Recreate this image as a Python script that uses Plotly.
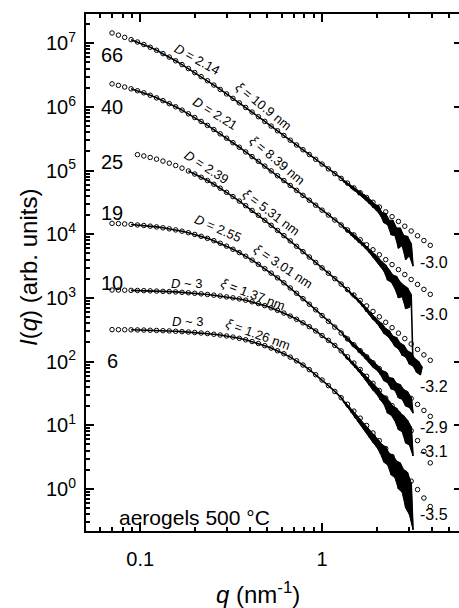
import plotly.graph_objects as go

# ---------------- data ----------------
# common q grid of the open-circle (fit) points, nm^-1
Q = [0.0700, 0.0759, 0.0822, 0.0891, 0.0966, 0.1047, 0.1135, 0.1230, 0.1334, 0.1445,
     0.1567, 0.1698, 0.1841, 0.1995, 0.2163, 0.2344, 0.2541, 0.2754, 0.2985, 0.3236,
     0.3508, 0.3802, 0.4121, 0.4467, 0.4842, 0.5248, 0.5689, 0.6166, 0.6683, 0.7244,
     0.7852, 0.8511, 0.9226, 1.0000, 1.0839, 1.1749, 1.2735, 1.3804, 1.4962, 1.6218,
     1.7579, 1.9055, 2.0654, 2.2387, 2.4266, 2.6303, 2.8510, 3.0903, 3.3497, 3.6308,
     3.9355]

# log10 I(q) of the circles, one list per sample
FIT_66 = [7.162, 7.128, 7.093, 7.057, 7.020, 6.981, 6.938, 6.890, 6.838, 6.783,
          6.725, 6.665, 6.603, 6.540, 6.476, 6.412, 6.344, 6.275, 6.205, 6.135,
          6.064, 5.992, 5.920, 5.847, 5.774, 5.700, 5.626, 5.552, 5.478, 5.403,
          5.328, 5.253, 5.178, 5.103, 5.028, 4.953, 4.878, 4.803, 4.728, 4.653,
          4.578, 4.503, 4.428, 4.352, 4.277, 4.202, 4.127, 4.052, 3.977, 3.902, 3.827]
FIT_40 = [6.363, 6.339, 6.313, 6.285, 6.255, 6.222, 6.184, 6.143, 6.099, 6.052,
          6.003, 5.950, 5.893, 5.834, 5.773, 5.710, 5.645, 5.578, 5.509, 5.439,
          5.367, 5.294, 5.220, 5.146, 5.071, 4.996, 4.920, 4.844, 4.767, 4.690,
          4.612, 4.535, 4.457, 4.379, 4.302, 4.224, 4.146, 4.068, 3.991, 3.913,
          3.835, 3.757, 3.679, 3.602, 3.524, 3.446, 3.368, 3.290, 3.213, 3.135, 3.057]
FIT_25 = [None, None, None, None, 5.251, 5.230, 5.207, 5.180, 5.150, 5.117,
          5.081, 5.039, 4.994, 4.946, 4.896, 4.844, 4.786, 4.724, 4.659, 4.592,
          4.522, 4.450, 4.375, 4.298, 4.220, 4.141, 4.061, 3.979, 3.896, 3.812,
          3.728, 3.643, 3.558, 3.473, 3.388, 3.303, 3.218, 3.132, 3.046, 2.961,
          2.875, 2.789, 2.704, 2.618, 2.533, 2.447, 2.362, 2.277, 2.192, 2.106, 2.021]
FIT_19 = [4.172, 4.168, 4.162, 4.155, 4.147, 4.138, 4.128, 4.116, 4.102, 4.086,
          4.069, 4.049, 4.025, 3.998, 3.968, 3.936, 3.900, 3.859, 3.814, 3.765,
          3.713, 3.656, 3.594, 3.528, 3.460, 3.390, 3.316, 3.238, 3.157, 3.074,
          2.989, 2.902, 2.814, 2.724, 2.633, 2.542, 2.450, 2.357, 2.264, 2.171,
          2.077, 1.983, 1.889, 1.795, 1.702, 1.608, 1.515, 1.421, 1.328, 1.234, 1.141]
FIT_10 = [3.125, 3.124, 3.122, 3.120, 3.118, 3.115, 3.112, 3.108, 3.104, 3.100,
          3.095, 3.089, 3.082, 3.074, 3.065, 3.055, 3.044, 3.031, 3.017, 3.002,
          2.985, 2.965, 2.940, 2.911, 2.880, 2.845, 2.806, 2.763, 2.716, 2.665,
          2.610, 2.549, 2.482, 2.410, 2.334, 2.255, 2.169, 2.076, 1.978, 1.876,
          1.770, 1.660, 1.546, 1.428, 1.308, 1.185, 1.055, 0.915, 0.760, 0.590, 0.410]
FIT_6 = [2.503, 2.502, 2.501, 2.500, 2.498, 2.496, 2.493, 2.490, 2.486, 2.482,
         2.477, 2.471, 2.465, 2.458, 2.450, 2.441, 2.430, 2.418, 2.403, 2.386,
         2.366, 2.343, 2.316, 2.285, 2.251, 2.213, 2.171, 2.124, 2.071, 2.013,
         1.947, 1.874, 1.795, 1.711, 1.623, 1.532, 1.434, 1.331, 1.223, 1.112,
         0.997, 0.880, 0.759, 0.635, 0.510, 0.383, 0.254, 0.123, -0.009, -0.142, -0.276]

# measured (noisy) high-q part of each data curve: q grid and log10 I
# (values alternate between the upper and lower edge of the noise band)
TAIL_Q = [1.288, 1.318, 1.349, 1.380, 1.413, 1.445, 1.479, 1.514, 1.549, 1.585,
          1.622, 1.660, 1.698, 1.738, 1.778, 1.820, 1.862, 1.905, 1.950, 1.995,
          2.042, 2.089, 2.138, 2.188, 2.239, 2.291, 2.344, 2.399, 2.455, 2.512,
          2.570, 2.630, 2.692, 2.754, 2.818, 2.884, 2.951, 3.020, 3.090, 3.162,
          3.236, 3.311, 3.388, 3.467, 3.548]
TAIL_66 = [4.87, 4.825, 4.83, 4.78, 4.785, 4.73, 4.75, 4.685, 4.70, 4.63,
           4.665, 4.59, 4.63, 4.535, 4.58, 4.48, 4.535, 4.42, 4.47, 4.37,
           4.45, 4.30, 4.34, 4.18, 4.33, 4.15, 4.22, 3.99, 4.22, 3.98,
           4.10, 3.78, 4.10, 3.82, 3.98, 3.60, 3.97, 3.66, 3.86, 3.50]
TAIL_40 = [4.14, 4.095, 4.10, 4.04, 4.055, 3.99, 4.01, 3.935, 3.96, 3.88,
           3.905, 3.83, 3.86, 3.775, 3.81, 3.71, 3.755, 3.64, 3.69, 3.58,
           3.63, 3.50, 3.57, 3.42, 3.52, 3.28, 3.44, 3.25, 3.36, 3.15,
           3.34, 3.00, 3.25, 3.02, 3.20, 2.83, 3.16, 2.85, 3.06, 1.98]
TAIL_25 = [3.21, 3.17, 3.16, 3.115, 3.11, 3.055, 3.065, 3.00, 3.005, 2.94,
           2.95, 2.875, 2.885, 2.80, 2.825, 2.735, 2.77, 2.66, 2.70, 2.61,
           2.64, 2.53, 2.60, 2.44, 2.52, 2.40, 2.49, 2.33, 2.40, 2.24,
           2.38, 2.20, 2.29, 2.10, 2.26, 2.07, 2.17, 1.96, 2.14, 1.93,
           2.05, 1.83, 2.01, 1.79, 1.92]
TAIL_19 = [2.45, 2.395, 2.40, 2.345, 2.345, 2.28, 2.29, 2.225, 2.24, 2.16,
           2.19, 2.10, 2.14, 2.04, 2.09, 1.98, 2.03, 1.91, 1.98, 1.87,
           1.93, 1.80, 1.86, 1.70, 1.84, 1.67, 1.75, 1.57, 1.74, 1.55,
           1.66, 1.43, 1.64, 1.41, 1.56, 1.30, 1.53, 1.28, 1.44, 1.19]
TAIL_10 = [2.16, 2.105, 2.10, 2.04, 2.045, 1.98, 1.99, 1.915, 1.93, 1.85,
           1.875, 1.78, 1.81, 1.71, 1.75, 1.63, 1.69, 1.55, 1.62, 1.49,
           1.57, 1.40, 1.49, 1.33, 1.45, 1.19, 1.38, 1.16, 1.30, 1.07,
           1.27, 0.93, 1.19, 0.90, 1.15, 0.72, 1.08, 0.69, 0.98, 0.52]
TAIL_6 = [1.42, 1.36, 1.355, 1.285, 1.29, 1.21, 1.225, 1.13, 1.16, 1.055,
          1.10, 0.98, 1.03, 0.90, 0.97, 0.81, 0.90, 0.73, 0.85, 0.66,
          0.77, 0.56, 0.70, 0.42, 0.66, 0.38, 0.56, 0.22, 0.53, 0.18,
          0.44, 0.00, 0.41, -0.05, 0.30, -0.30, 0.26, -0.40, 0.10, -0.64]

SAMPLES = ["66", "40", "25", "19", "10", "6"]
FITS = [FIT_66, FIT_40, FIT_25, FIT_19, FIT_10, FIT_6]
TAILS = [TAIL_66, TAIL_40, TAIL_25, TAIL_19, TAIL_10, TAIL_6]
DATA_START = [3, 3, 12, 3, 3, 3]        # first grid index where the measured line begins
BAND_POINTS = [40, 39, 45, 40, 40, 40]  # tail points that belong to the noise band
SMOOTH_END = 37                         # grid index where the noisy tail takes over

# text labels
SAMPLE_LABEL_Y = [6.816, 6.00, 5.136, 4.335, 3.235, 2.01]
SLOPE_TEXT = ["-3.0", "-3.0", "-3.2", "-2.9", "-3.1", "-3.5"]
SLOPE_Y = [3.550, 2.733, 1.602, 0.958, 0.581, -0.408]
PARAM_TEXT = ["<i>D</i> = 2.14", "<i>ξ</i> = 10.9 nm",
              "<i>D</i> = 2.21", "<i>ξ</i> = 8.39 nm",
              "<i>D</i> = 2.39", "<i>ξ</i> = 5.31 nm",
              "<i>D</i> = 2.55", "<i>ξ</i> = 3.01 nm",
              "<i>D</i> ~ 3", "<i>ξ</i> = 1.37 nm",
              "<i>D</i> ~ 3", "<i>ξ</i> = 1.26 nm"]
PARAM_X = [-0.687, -0.319, -0.588, -0.247, -0.632, -0.280, -0.571, -0.214,
           -0.747, -0.379, -0.742, -0.352]
PARAM_Y = [6.738, 6.015, 5.890, 5.152, 5.057, 4.335, 4.084, 3.487,
           3.235, 3.047, 2.623, 2.419]
PARAM_ANGLE = [29, 39, 32, 40, 33, 37, 24, 34, 0, 21, 0, 20]

Y_TICK_VALS = [1, 10, 100, 1e3, 1e4, 1e5, 1e6, 1e7]
Y_TICK_TEXT = ["10<sup>%d</sup>" % i for i in range(8)]
X_TICK_VALS = [0.1, 1]
X_TICK_TEXT = ["0.1", "1"]

# ---------------- figure ----------------
FONT = "Liberation Sans, Arial, Helvetica, sans-serif"
fig = go.Figure()

for name, fit, tail, k0, nb in zip(SAMPLES, FITS, TAILS, DATA_START, BAND_POINTS):
    # filled noise band of the measured curve (upper edge forward, lower edge back)
    tq = TAIL_Q[:nb]
    tv = tail[:nb]
    up_q, up_v = tq[0::2], tv[0::2]
    lo_q, lo_v = tq[1::2], tv[1::2]
    fig.add_trace(go.Scatter(x=up_q + lo_q[::-1],
                             y=[10 ** v for v in up_v] + [10 ** v for v in lo_v[::-1]],
                             mode="lines", fill="toself", fillcolor="black",
                             line=dict(color="black", width=1),
                             showlegend=False, hoverinfo="skip"))
    # measured curve: smooth part + noisy tail
    xs = Q[k0:SMOOTH_END] + TAIL_Q[:len(tail)]
    ys = [10 ** v for v in fit[k0:SMOOTH_END]] + [10 ** v for v in tail]
    fig.add_trace(go.Scatter(x=xs, y=ys, mode="lines",
                             line=dict(color="black", width=1.6),
                             showlegend=False, hoverinfo="skip"))
    # fit curve as open circles
    fig.add_trace(go.Scatter(x=Q, y=[10 ** v if v is not None else None for v in fit],
                             mode="markers",
                             marker=dict(symbol="circle-open", size=4.5,
                                         color="black", line=dict(width=1)),
                             showlegend=False, hoverinfo="skip"))

# dummy trace carrying the right-hand tick axis
fig.add_trace(go.Scatter(x=[], y=[], yaxis="y2", showlegend=False))

ann = []
for t, y in zip(SAMPLES, SAMPLE_LABEL_Y):
    ann.append(dict(x=-1.155, y=y, xref="x", yref="y", text=t, showarrow=False,
                    xanchor="center", yanchor="middle",
                    font=dict(size=20, family=FONT, color="black")))
for t, y in zip(SLOPE_TEXT, SLOPE_Y):
    ann.append(dict(x=0.615, y=y, xref="x", yref="y", text=t, showarrow=False,
                    xanchor="center", yanchor="middle",
                    font=dict(size=16, family=FONT, color="black")))
for t, x, y, a in zip(PARAM_TEXT, PARAM_X, PARAM_Y, PARAM_ANGLE):
    ann.append(dict(x=x, y=y, xref="x", yref="y", text=t, showarrow=False,
                    xanchor="center", yanchor="middle",
                    textangle=a, font=dict(size=13, family=FONT, color="black")))
ann.append(dict(x=-1.126, y=-0.455, xref="x", yref="y", text="aerogels 500 °C",
                showarrow=False, xanchor="left", yanchor="middle",
                font=dict(size=21, family=FONT, color="black")))
ann.append(dict(x=-0.1555, y=0.5106, xref="paper", yref="paper",
                text="<i>I</i>(<i>q</i>) (arb. units)", textangle=-90,
                xanchor="center", yanchor="middle",
                showarrow=False, font=dict(size=24, family=FONT, color="black")))
ann.append(dict(x=0.461, y=-0.12, xref="paper", yref="paper",
                text="<i>q</i> (nm<sup>-1</sup>)",
                xanchor="center", yanchor="middle",
                showarrow=False, font=dict(size=24, family=FONT, color="black")))

fig.update_layout(
    width=459, height=608,
    margin=dict(l=86, r=0, t=14, b=77),
    paper_bgcolor="white", plot_bgcolor="white",
    font=dict(family=FONT, size=20, color="black"),
    annotations=ann,
    xaxis=dict(type="log", range=[-1.298, 0.753], showgrid=False, zeroline=False,
               showline=True, linewidth=2, linecolor="black", mirror="ticks",
               ticks="inside", ticklen=8, tickwidth=1.5, tickcolor="black",
               tickmode="array", tickvals=X_TICK_VALS, ticktext=X_TICK_TEXT,
               ticklabelstandoff=9,
               minor=dict(ticks="inside", ticklen=4, tickwidth=1.5, tickcolor="black",
                          dtick="D1", showgrid=False),
               tickfont=dict(size=20, family=FONT)),
    yaxis=dict(type="log", range=[-0.66, 7.46], showgrid=False, zeroline=False,
               showline=True, linewidth=2, linecolor="black", mirror=False,
               ticks="inside", ticklen=8, tickwidth=1.5, tickcolor="black",
               tickmode="array", tickvals=Y_TICK_VALS, ticktext=Y_TICK_TEXT,
               ticklabelstandoff=4,
               minor=dict(ticks="inside", ticklen=4, tickwidth=1.5, tickcolor="black",
                          dtick="D1", showgrid=False),
               tickfont=dict(size=20, family=FONT)),
    yaxis2=dict(type="log", range=[-0.66, 7.46], overlaying="y", side="right",
                showgrid=False, zeroline=False, showline=False,
                ticks="inside", ticklen=5, tickwidth=1.5, tickcolor="black",
                tickmode="array", tickvals=Y_TICK_VALS, showticklabels=False),
)

fig.write_html("out.html", config={"displayModeBar": False},
               post_script="document.body.style.margin='0px';")
